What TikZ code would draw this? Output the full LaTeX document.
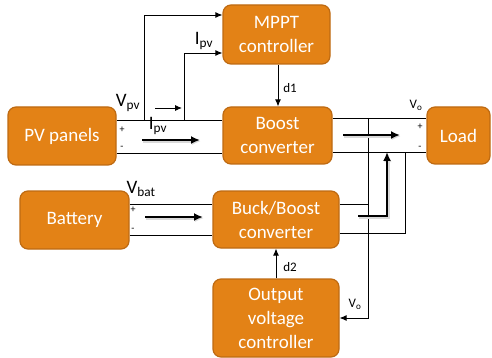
\documentclass[tikz,border=0pt]{standalone}
\usepackage{fontspec}
\setmainfont{Carlito}
\usetikzlibrary{arrows.meta,positioning}
\definecolor{blockorange}{RGB}{227,130,22}
\definecolor{blockedge}{RGB}{190,106,18}

\begin{document}
\begin{tikzpicture}[x=1pt, y=-1pt,
    block/.style={draw=blockedge, line width=1.2pt, rounded corners=8pt, fill=blockorange, text=white, font=\fontsize{19}{24}\selectfont, align=center, inner sep=0pt},
    wire/.style={line width=0.9pt},
    sense/.style={line width=0.9pt, -{Latex[length=7pt,width=6pt]}},
    flow/.style={line width=2.6pt, -{Latex[length=9pt,width=8pt]}, preaction={draw=black!15, line width=3.4pt, transform canvas={shift={(0.8pt,-1.2pt)}}}},
    lbl/.style={font=\fontsize{19}{19}\selectfont, inner sep=0pt},
    small/.style={font=\fontsize{13}{13}\selectfont, inner sep=0pt},
    pm/.style={font=\fontsize{10}{10}\selectfont, inner sep=0pt}]
        \useasboundingbox (0,0) rectangle (492,358);

        \node[block, minimum width=108pt, minimum height=58pt] (pv) at (62,136) {PV panels};
        \node[block, minimum width=107pt, minimum height=59pt] (mppt) at (276.5,34.5) {MPPT\\controller};
        \node[block, minimum width=109pt, minimum height=57pt] (boost) at (277.5,135.5) {Boost\\converter};
        \node[block, minimum width=63pt, minimum height=57pt] (load) at (458.5,135.5) {Load};
        \node[block, minimum width=109pt, minimum height=58pt] (battery) at (74.5,220) {Battery};
        \node[block, minimum width=126pt, minimum height=57pt] (buckboost) at (276,219.5) {Buck/Boost\\converter};
        \node[block, minimum width=126pt, minimum height=78pt] (ovc) at (276,318) {Output\\voltage\\controller};

        \coordinate (vtap) at (144,120);
        \coordinate (itap) at (184,120);
        \coordinate (votap) at (368,118);
        \coordinate (negtap) at (405,152);

        % PV side
        \draw[wire] ([yshift=16pt]pv.east) -- ([yshift=16pt]pv.east -| boost.west);
        \draw[wire] ([yshift=-17pt]pv.east) -- ([yshift=-17pt]pv.east -| boost.west);
        \draw[sense] (vtap) |- ([yshift=19.5pt]mppt.west);
        \draw[sense] (itap) |- ([yshift=-18.5pt]mppt.west);
        \draw[sense] ([xshift=1.5pt]mppt.south) -- ([xshift=1.5pt]mppt.south |- boost.north);

        % output side
        \draw[wire] ([yshift=17.5pt]boost.east) -- ([yshift=17.5pt]boost.east -| load.west);
        \draw[wire] ([yshift=-16.5pt]boost.east) -- ([yshift=-16.5pt]boost.east -| load.west);
        \draw[wire] ([yshift=15.5pt]buckboost.east) -- ([yshift=15.5pt]buckboost.east -| votap);
        \draw[wire] ([yshift=-13.5pt]buckboost.east) -| (negtap);
        \draw[sense] (votap) |- (ovc.east);
        \draw[sense] (ovc.north) -- (ovc.north |- buckboost.south);

        % battery side
        \draw[wire] ([yshift=16pt]battery.east) -- ([yshift=16pt]battery.east -| buckboost.west);
        \draw[wire] ([yshift=-15pt]battery.east) -- ([yshift=-15pt]battery.east -| buckboost.west);

        % power flow
        \draw[flow] (142,140) -- (200,140);
        \draw[flow] (343,135) -- (400,135);
        \draw[flow] (145,217) -- (203,217);
        \draw[flow] (358,216) -| (387,152);
        \draw[sense] (155,108) -- (182,108);

        % labels
        \node[lbl] (vpvlbl) at (128,103) {V\textsubscript{pv}};
        \node[lbl] (ipvtop) at (204,41) {I\textsubscript{pv}};
        \node[lbl] (ipvlbl) at (158,126) {I\textsubscript{pv}};
        \node[lbl] (vbatlbl) at (141,189) {V\textsubscript{bat}};
        \node[small] (d1lbl) at (290,88) {d1};
        \node[small] (d2lbl) at (290,267) {d2};
        \node[small] (votop) at (416,105) {V\textsubscript{o}};
        \node[small] (vobot) at (355,304) {V\textsubscript{o}};
        \node[pm] at (122,129.5) {+};
        \node[pm] at (122,148) {-};
        \node[pm] at (420,127) {+};
        \node[pm] at (420,148) {-};
        \node[pm] at (133,210) {+};
        \node[pm] at (133,230) {-};
    \end{tikzpicture}
\end{document}
